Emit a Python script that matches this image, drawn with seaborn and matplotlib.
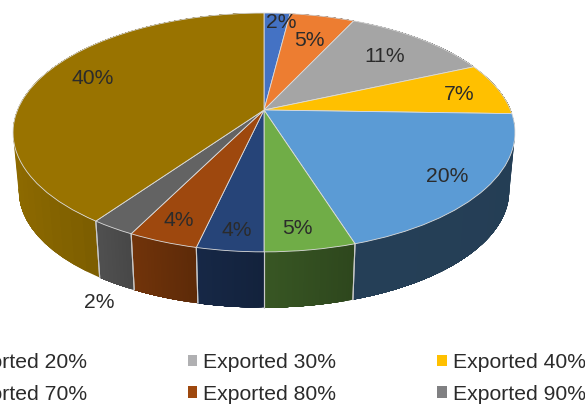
import numpy as np
import matplotlib
matplotlib.use("Agg")
import matplotlib.pyplot as plt
from matplotlib.patches import Patch
from matplotlib.transforms import Transform
import seaborn as sns

# Slice shares, labels show them rounded
series_names = ["Exported 10%", "Exported 20%", "Exported 30%", "Exported 40%", "Exported 50%",
                "Exported 60%", "Exported 70%", "Exported 80%", "Exported 90%", "Exported 100%"]
shares = [2.0, 5.0, 11.4, 7.1, 19.6, 4.9, 3.6, 3.8, 2.4, 40.2]
slice_colors = ["#4472C4", "#ED7D31", "#A5A5A5", "#FFC000", "#5B9BD5",
                "#70AD47", "#264478", "#9E480E", "#636363", "#997300"]

legend_names = ["Exported 20%", "Exported 70%", "Exported 30%",
                "Exported 80%", "Exported 40%", "Exported 90%"]
legend_colors = ["#ED7D31", "#264478", "#B0B0B2", "#9E480E", "#FFC000", "#808082"]

# Pixel layout of the tilted disc
APEX_X, APEX_Y = 264, 110
RADIUS_X, RADIUS_Y, TILT = 246.5, 115.2, 0.188
WALL_SCALE, WALL_DROP = 0.977, 59

label_xy = [(281, 23), (309, 41), (385, 57), (459, 95), (447, 177),
            (297, 229), (237, 230), (179, 221), (99, 303), (93, 79)]

# Wall darkening against pixel x
shade_x = [15, 100, 130, 200, 264, 354, 515]
shade_k = [0.92, 0.80, 0.72, 0.58, 0.50, 0.41, 0.40]


class Perspective(Transform):
    """Maps the unit pie to pixels, as seen from above with perspective."""
    input_dims = output_dims = 2

    def transform_non_affine(self, values):
        values = np.asarray(values, dtype=float)
        u, v = values[:, 0], values[:, 1]
        w = 1 + TILT * v
        return np.column_stack([APEX_X + RADIUS_X * u / w, APEX_Y - RADIUS_Y * v / w])


sns.set_theme(style="white")
plt.rcParams["font.family"] = ["Liberation Sans", "DejaVu Sans"]
palette = sns.color_palette(slice_colors)

fig = plt.figure(figsize=(5.85, 4.04), dpi=100)
ax = fig.add_axes([0, 0, 1, 1])

persp = Perspective()
edges = 90 - np.concatenate([[0], np.cumsum(shares)]) * 3.6

# Outer walls first, front ones come last so the seams stay visible
order = np.argsort([abs((a + b) / 2 + 90) for a, b in zip(edges[:-1], edges[1:])])[::-1]
for i in order:
    thetas = np.radians(np.linspace(edges[i], edges[i + 1], 40))
    rim = persp.transform(np.column_stack([np.cos(thetas), np.sin(thetas)]))
    low = np.column_stack([APEX_X + (rim[:, 0] - APEX_X) * WALL_SCALE,
                           APEX_Y + (rim[:, 1] - APEX_Y) * WALL_SCALE + WALL_DROP])
    # each strip runs on to the slice end, the next one paints over it, so no gaps show
    for j in range(len(rim) - 1):
        k = np.interp((rim[j, 0] + rim[j + 1, 0]) / 2, shade_x, shade_k)
        shade = tuple(c * k for c in palette[i])
        quad = np.vstack([rim[j:], low[j:][::-1]])
        ax.fill(quad[:, 0], quad[:, 1], color=shade, lw=0, zorder=1)
    # light seam between two walls
    for end in (0, -1):
        if rim[end, 1] > APEX_Y + 20:
            ax.plot([rim[end, 0], low[end, 0]], [rim[end, 1], low[end, 1]],
                    color="#c9c9c9", lw=0.8, zorder=1.5)

wedges, _ = ax.pie(shares, colors=palette, startangle=90, counterclock=False,
                   wedgeprops={"edgecolor": "#dcdcdc", "linewidth": 0.6})
for wedge in wedges:
    wedge.set_transform(persp + ax.transData)
    wedge.set_zorder(2)

ax.set_aspect("auto")
ax.set_xlim(0, 585)
ax.set_ylim(404, 0)
ax.axis("off")

for share, (x, y) in zip(shares, label_xy):
    ax.text(x, y, f"{round(share)}%", ha="center", va="center",
            fontsize=15.2, color="#2b2b2b", zorder=3)

handles = [Patch(facecolor=c, edgecolor="none") for c in legend_colors]
fig.legend(handles, legend_names, ncol=3, loc="upper left",
           bbox_to_anchor=(-62 / 585, 1 - 353 / 404), frameon=False, fontsize=15.2,
           borderpad=0, borderaxespad=0, handlelength=0.46, handleheight=0.46,
           handletextpad=0.28, columnspacing=4.78, labelspacing=0.6,
           labelcolor="#2b2b2b")

fig.savefig("out.png", dpi=100)
